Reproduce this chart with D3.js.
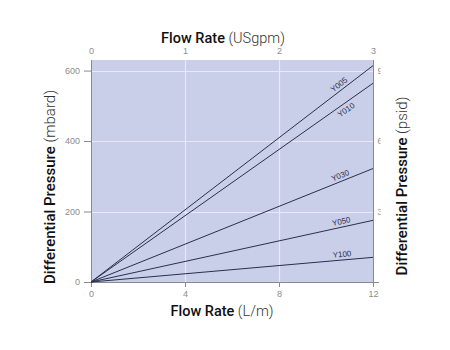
<!DOCTYPE html>
<html>
<head>
<meta charset="utf-8">
<script src="https://cdn.jsdelivr.net/npm/d3@7"></script>
<style>
  html, body { margin: 0; padding: 0; background: #fff; }
  svg { display: block; }
  .tick text { font-family: "Liberation Sans", Arial, sans-serif; font-size: 9px; fill: #8c8c8c; }
</style>
</head>
<body>
<svg id="chart" width="450" height="350"></svg>
<script>
// Flow rate (L/m) at which each pressure-drop line is given
const flowLpm = [0, 12];
// Differential pressure (mbard) for each element grade at 0 and 12 L/m
const seriesNames = ["Y005", "Y010", "Y030", "Y050", "Y100"];
const y005 = [0, 614];
const y010 = [0, 564];
const y030 = [0, 322];
const y050 = [0, 175];
const y100 = [0, 70];
const seriesValues = [y005, y010, y030, y050, y100];

const bottomTicks = [0, 4, 8, 12];
const topTicks = [0, 1, 2, 3];
const leftTicks = [0, 200, 400, 600];
const rightTicks = [3, 6, 9];

const svg = d3.select("#chart");
const m = { left: 91, right: 373, top: 60, bottom: 282 };

const x = d3.scaleLinear().domain([0, 12]).range([m.left, m.right]);
const xTop = d3.scaleLinear().domain([0, 3]).range([m.left, m.right]);
const y = d3.scaleLinear().domain([0, 630]).range([m.bottom, m.top]);
const yRight = d3.scaleLinear().domain([0, 630 * 3 / 200]).range([m.bottom, m.top]);

// plot panel
svg.append("rect")
  .attr("x", m.left).attr("y", m.top)
  .attr("width", m.right - m.left).attr("height", m.bottom - m.top)
  .attr("fill", "#c9cee9");

// white grid
const grid = svg.append("g").attr("stroke", "#e6e9f6").attr("stroke-width", 1.2);
grid.selectAll(".gx").data(bottomTicks.filter(d => d > 0 && d < 12)).join("line")
  .attr("x1", d => Math.round(x(d)) + 0.5).attr("x2", d => Math.round(x(d)) + 0.5)
  .attr("y1", m.top).attr("y2", m.bottom);
grid.selectAll(".gy").data(leftTicks.filter(d => d > 0)).join("line")
  .attr("x1", m.left).attr("x2", m.right)
  .attr("y1", d => Math.round(y(d)) + 0.5).attr("y2", d => Math.round(y(d)) + 0.5);

// axes
const axisColor = "#8a8a8a";
const gBottom = svg.append("g").attr("transform", `translate(0,${m.bottom})`)
  .call(d3.axisBottom(x).tickValues(bottomTicks).tickSize(5).tickPadding(4).tickSizeOuter(0));
const gLeft = svg.append("g").attr("transform", `translate(${m.left},0)`)
  .call(d3.axisLeft(y).tickValues(leftTicks).tickSize(7).tickPadding(4).tickSizeOuter(0));
const gTop = svg.append("g").attr("transform", `translate(0,${m.top})`)
  .call(d3.axisTop(xTop).tickValues(topTicks).tickFormat(d3.format("d"))
    .tickSize(0).tickPadding(6).tickSizeOuter(0));

// right (psid) axis labels, cut off just past the panel edge
svg.append("clipPath").attr("id", "rclip")
  .append("rect").attr("x", 0).attr("y", 0).attr("width", 7.5).attr("height", 350);
const gRight = svg.append("g").attr("transform", `translate(${m.right},0)`)
  .attr("clip-path", "url(#rclip)")
  .call(d3.axisRight(yRight).tickValues(rightTicks).tickSize(0).tickPadding(4.5).tickSizeOuter(0));

[gBottom, gLeft, gTop, gRight].forEach(g => {
  g.selectAll("path.domain").remove();
  g.selectAll(".tick line").attr("stroke", axisColor);
});

// axis frame lines
const frame = svg.append("g").attr("stroke", axisColor).attr("stroke-width", 1);
frame.append("line").attr("x1", m.left - 7).attr("x2", m.right + 6)
  .attr("y1", m.bottom + 0.5).attr("y2", m.bottom + 0.5);
frame.append("line").attr("x1", m.left + 0.5).attr("x2", m.left + 0.5)
  .attr("y1", m.top).attr("y2", m.bottom + 5);
frame.append("line").attr("x1", m.right + 0.5).attr("x2", m.right + 0.5)
  .attr("y1", m.top).attr("y2", m.bottom + 5);

// pressure-drop lines
const line = d3.line().x((d, i) => x(flowLpm[i])).y(d => y(d));
svg.append("g").selectAll("path").data(seriesValues).join("path")
  .attr("d", d => line(d))
  .attr("fill", "none").attr("stroke", "#2a2f4e").attr("stroke-width", 1);

// line labels, rotated along each line
const labelAt = 10.7;
const labelSide = { Y005: -3, Y010: 9, Y030: -3, Y050: -3, Y100: -3 };
svg.append("g").selectAll("text").data(seriesNames).join("text")
  .each(function (name, i) {
    const v = seriesValues[i];
    const px = x(labelAt);
    const py = y(v[0] + (v[1] - v[0]) * (labelAt - flowLpm[0]) / (flowLpm[1] - flowLpm[0]));
    const ang = Math.atan2(y(v[1]) - y(v[0]), x(flowLpm[1]) - x(flowLpm[0])) * 180 / Math.PI;
    d3.select(this)
      .attr("transform", `translate(${px},${py}) rotate(${ang})`)
      .attr("dy", labelSide[name]);
  })
  .attr("text-anchor", "middle")
  .attr("font-family", "Liberation Sans, Arial, sans-serif")
  .attr("font-size", 8).attr("fill", "#2a2f4e")
  .text(d => d);

// axis titles
function title(sel, main, unit, size) {
  sel.attr("font-family", "Roboto, Liberation Sans, Arial, sans-serif").attr("font-size", size)
    .attr("text-anchor", "middle").attr("fill", "#111");
  sel.append("tspan").attr("font-weight", 500).text(main);
  sel.append("tspan").attr("font-weight", 300).attr("fill", "#333").text(" " + unit);
}
title(svg.append("text").attr("x", 223).attr("y", 43), "Flow Rate", "(USgpm)", 14.5);
title(svg.append("text").attr("x", 222).attr("y", 316), "Flow Rate", "(L/m)", 14.5);
title(svg.append("text").attr("transform", "translate(55,187) rotate(-90)"), "Differential Pressure", "(mbard)", 15);
title(svg.append("text").attr("transform", "translate(407,186) rotate(-90)"), "Differential Pressure", "(psid)", 15);
</script>
</body>
</html>
